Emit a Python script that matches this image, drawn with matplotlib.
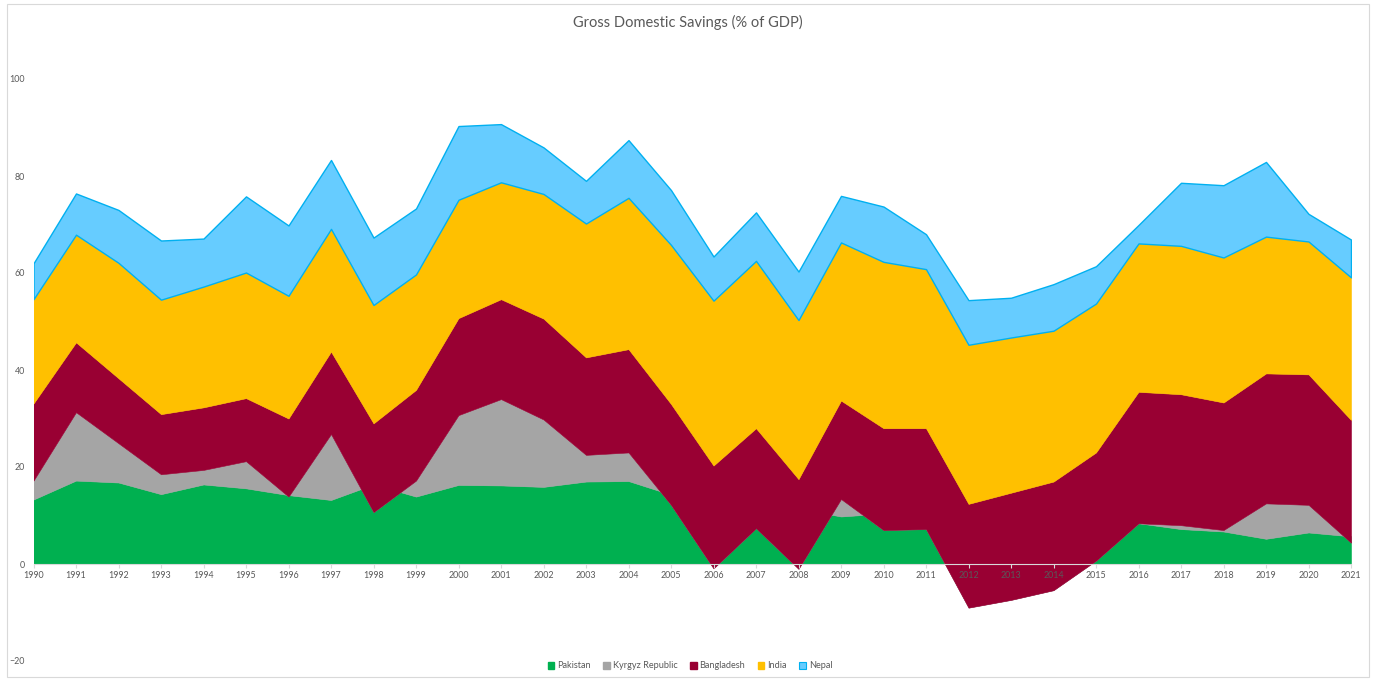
import numpy as np
import matplotlib
matplotlib.use('Agg')
import matplotlib.pyplot as plt
from matplotlib.patches import Patch, Rectangle

plt.rcParams['font.family'] = ['Lato', 'DejaVu Sans']

years = list(range(1990, 2022))

# gross domestic savings, % of GDP
pakistan = [13.3, 17.2, 16.8, 14.4, 16.4, 15.6, 14.2, 13.2, 16.4, 13.9,
            16.3, 16.2, 15.9, 17.0, 17.1, 14.3, 10.0, 9.0, 11.4, 9.8,
            10.4, 8.0, 7.5, 8.0, 8.5, 8.2, 8.4, 7.2, 6.7, 5.2,
            6.5, 5.7]
kyrgyz = [3.9, 14.1, 8.1, 4.1, 3.0, 5.6, -0.3, 13.6, -5.7, 3.3,
          14.4, 17.8, 13.9, 5.5, 5.9, -2.1, -10.9, -1.6, -12.4, 3.6,
          -3.4, -0.8, -16.5, -15.4, -13.9, -7.5, 0.0, 0.8, 0.3, 7.3,
          5.7, -1.3]
bangladesh = [15.9, 14.4, 13.4, 12.4, 12.9, 13.0, 16.1, 17.0, 18.3, 18.7,
              20.0, 20.6, 20.8, 20.1, 21.3, 20.8, 21.2, 20.6, 18.5, 20.3,
              21.0, 20.8, 21.4, 22.1, 22.4, 22.3, 27.1, 27.0, 26.3, 26.8,
              26.9, 25.3]
india = [21.5, 22.2, 23.8, 23.6, 24.9, 25.9, 25.3, 25.3, 24.4, 23.8,
         24.4, 24.1, 25.7, 27.6, 31.2, 32.8, 34.0, 34.5, 32.8, 32.6,
         34.3, 32.8, 32.8, 32.0, 31.1, 30.7, 30.6, 30.6, 29.9, 28.2,
         27.4, 29.4]
nepal = [7.4, 8.5, 10.9, 12.2, 9.9, 15.7, 14.5, 14.2, 13.9, 13.6,
         15.2, 12.0, 9.6, 8.8, 11.9, 11.3, 9.1, 10.0, 10.0, 9.6,
         11.4, 7.2, 9.2, 8.2, 9.6, 7.7, 3.8, 13.0, 14.9, 15.4,
         5.7, 7.8]

names = ['Pakistan', 'Kyrgyz Republic', 'Bangladesh', 'India', 'Nepal']
colors = ['#00B050', '#A5A5A5', '#990033', '#FFC000', '#66CCFF']
text_color = '#595959'
line_color = '#D9D9D9'

W, H = 1374, 679
fig = plt.figure(figsize=(W / 100, H / 100), dpi=100)
ax = fig.add_axes([33.5 / W, 18 / H, (1351 - 33.5) / W, 582 / H])

polys = ax.stackplot(years, pakistan, kyrgyz, bangladesh, india, nepal,
                     colors=colors, linewidth=0.4, edgecolor='face')
polys[-1].set_edgecolor('#00B0F0')
polys[-1].set_linewidth(1.0)

ax.set_xlim(1990, 2021)
ax.set_ylim(-20, 100)
ax.set_xticks(years)
ax.set_yticks(np.arange(-20, 101, 20))

for side in ['top', 'right', 'left']:
    ax.spines[side].set_visible(False)
ax.spines['bottom'].set_position(('data', 0))
ax.spines['bottom'].set_color(line_color)
ax.spines['bottom'].set_linewidth(0.8)

ax.tick_params(axis='x', length=3, width=0.8, color=line_color,
               labelsize=6.4, labelcolor=text_color, pad=2)
ax.tick_params(axis='y', length=0, labelsize=6.4, labelcolor=text_color, pad=6)

fig.text(688 / W, 1 - 22 / H, 'Gross Domestic Savings (% of GDP)',
         ha='center', va='center', fontsize=10.5, color=text_color)

handles = [Patch(facecolor=c, edgecolor=c) for c in colors]
handles[-1] = Patch(facecolor=colors[-1], edgecolor='#00B0F0', linewidth=0.8)
fig.legend(handles, names, loc='center', bbox_to_anchor=(690 / W, 1 - 666 / H),
           ncol=5, frameon=False, fontsize=6.6, handlelength=0.7,
           handleheight=0.7, handletextpad=0.3, columnspacing=1.4,
           labelcolor=text_color)

# chart border
fig.patches.append(Rectangle((7 / W, 2 / H), 1362 / W, 673 / H,
                             transform=fig.transFigure, fill=False,
                             edgecolor=line_color, linewidth=0.8))

fig.savefig('out.png', dpi=100)
